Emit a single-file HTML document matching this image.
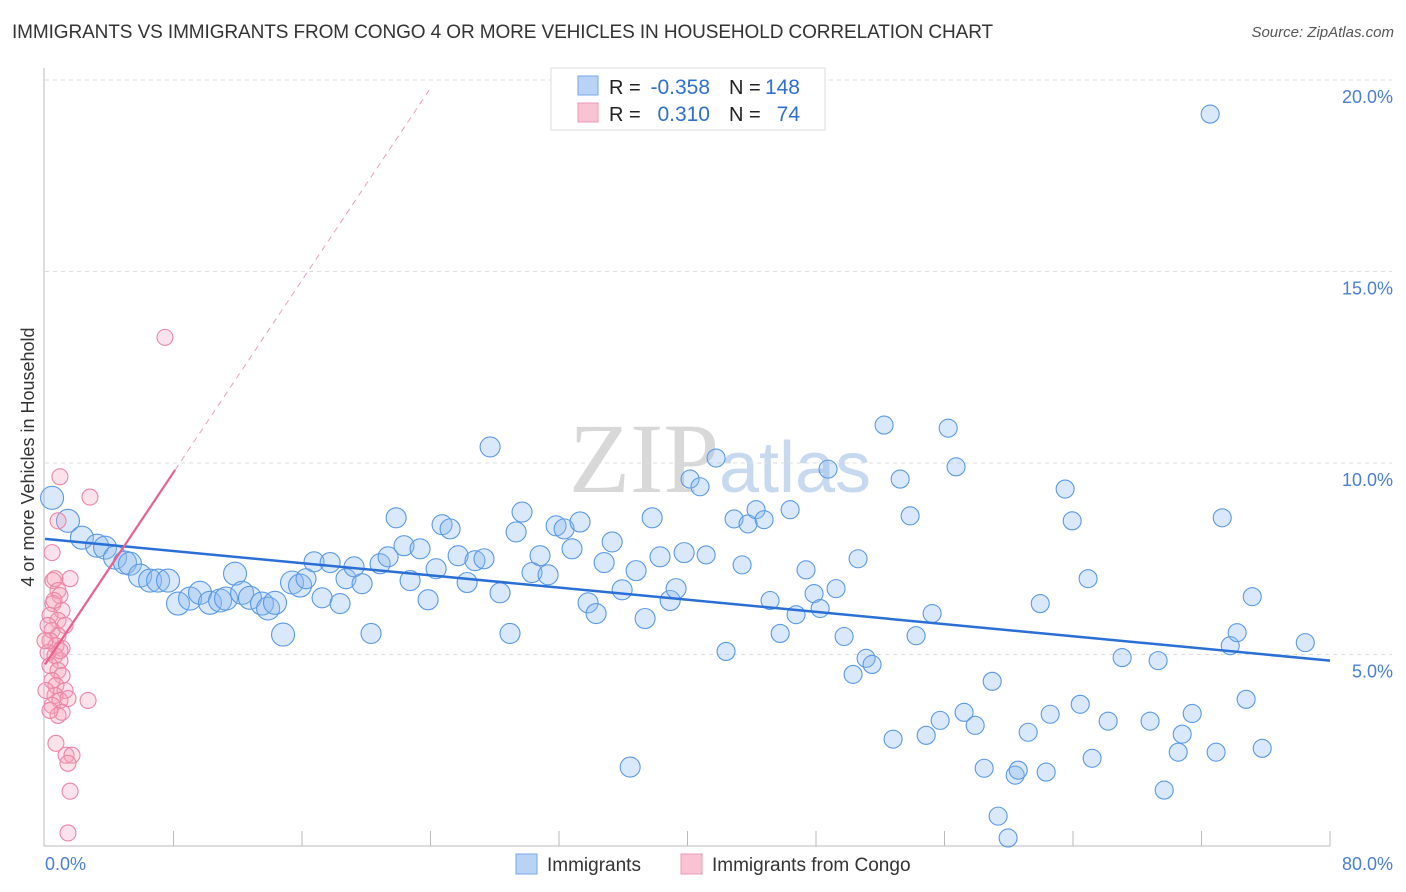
<!DOCTYPE html>
<html><head><meta charset="utf-8">
<style>
body{margin:0;background:#fff;font-family:"Liberation Sans",sans-serif;}
#wrap{position:relative;width:1406px;height:892px;overflow:hidden;}
.title{position:absolute;left:12px;top:22px;font-size:19px;color:#333;letter-spacing:-0.1px;}
.source{position:absolute;right:12px;top:24px;font-size:15px;color:#555;font-style:italic;}
</style></head>
<body>
<div id="wrap">
<div class="title">IMMIGRANTS VS IMMIGRANTS FROM CONGO 4 OR MORE VEHICLES IN HOUSEHOLD CORRELATION CHART</div>
<div class="source">Source: ZipAtlas.com</div>
<svg id="svg" width="1406" height="892" style="position:absolute;left:0;top:0">
<text x="720" y="492" text-anchor="middle" font-family="Liberation Serif" font-size="100" fill="#d8d8d8">ZIP<tspan font-family="Liberation Sans" fill="#c6d9ef" font-size="72">atlas</tspan></text>
</svg>
</div>
<script>
const blueX=[0.44,1.43,2.30,3.24,3.74,4.36,4.98,5.29,5.92,6.54,7.04,7.66,8.28,9.03,9.65,10.27,10.90,11.27,11.83,12.27,12.76,13.51,13.89,14.32,14.82,15.38,15.88,16.25,16.75,17.25,17.75,18.37,18.74,19.24,19.74,20.30,20.86,21.36,21.86,22.35,22.73,23.35,23.85,24.35,24.72,25.22,25.72,26.28,26.77,27.33,27.71,28.33,28.95,29.33,29.70,30.32,30.82,31.32,31.82,32.32,32.81,33.31,33.81,34.31,34.81,35.31,35.93,36.43,36.80,37.36,37.80,38.29,38.92,39.29,39.79,40.16,40.78,41.16,41.78,42.40,42.90,43.40,43.77,44.27,44.77,45.14,45.77,46.39,46.76,47.38,47.88,48.26,48.75,49.25,49.75,50.62,51.12,51.49,50.31,52.24,52.80,53.24,53.86,54.23,54.86,55.23,55.73,56.23,56.72,57.22,57.91,58.47,58.97,59.34,59.96,60.40,60.59,61.21,61.96,62.33,62.58,63.51,63.95,64.45,64.94,65.19,66.19,67.06,68.80,69.30,69.68,70.55,70.80,71.42,72.54,72.91,73.29,73.79,74.22,74.78,75.16,75.78,78.46];
const blueY=[9.09,8.49,8.05,7.84,7.79,7.53,7.40,7.37,7.06,6.93,6.93,6.93,6.33,6.46,6.61,6.35,6.41,6.46,7.11,6.61,6.48,6.33,6.20,6.35,5.52,6.88,6.80,6.98,7.42,6.48,7.40,6.33,6.98,7.29,6.85,5.55,7.37,7.55,8.57,7.84,6.93,7.76,6.43,7.24,8.39,8.28,7.58,6.88,7.45,7.50,10.42,6.61,5.55,8.20,8.72,7.14,7.58,7.08,8.36,8.28,7.76,8.46,6.35,6.07,7.40,7.94,6.69,2.06,7.19,5.94,8.57,7.55,6.41,6.72,7.66,9.58,9.38,7.60,10.13,5.08,8.54,7.34,8.41,8.78,8.52,6.41,5.55,8.78,6.04,7.21,6.59,6.20,9.84,6.72,5.47,7.50,4.90,4.74,4.48,10.99,2.79,9.58,8.62,5.49,2.89,6.07,3.28,10.91,9.90,3.49,3.15,2.03,4.30,0.78,0.21,1.85,1.98,2.97,6.33,1.93,3.44,9.32,8.49,3.70,6.98,2.29,3.26,4.92,3.26,4.84,1.46,2.45,2.92,3.46,19.11,2.45,8.57,5.23,5.57,3.83,6.51,2.55,5.31];
const pinkX=[0.93,0.44,0.81,0.50,0.62,1.56,0.81,0.93,0.50,1.06,0.31,0.81,1.25,0.44,0.81,0.31,0.68,1.06,0.19,0.62,0.93,0.31,0.81,1.06,0.44,0.68,1.25,0.62,0.93,1.43,0.44,1.06,0.81,2.68,2.80,7.47,0.68,1.31,1.68,1.43,1.56,1.43,0,0.19,0.56,0.06,0.31,0.93];
const pinkY=[9.64,7.66,8.49,6.93,6.98,6.98,6.67,6.54,6.33,6.15,6.02,5.89,5.76,5.63,5.49,5.36,5.23,5.16,5.05,4.97,4.84,4.71,4.58,4.45,4.32,4.19,4.06,3.93,3.80,3.85,3.67,3.49,3.41,3.80,9.11,13.28,2.68,2.37,2.37,2.16,1.43,0.34,5.36,5.76,6.41,4.06,3.54,5.10];
const yTicks=[5,10,15,20];
const yTickLabels=["5.0%","10.0%","15.0%","20.0%"];
const xTicks=[0,8,16,24,32,40,48,56,64,72,80];
const blueTrend=[8.02,4.84];
const pinkTrend=[4.74,0.627];

const NS="http://www.w3.org/2000/svg";
const svg=document.getElementById('svg');
const X0=45,X1=1330,Y0=846,Y20=80;
const sx=v=>X0+(X1-X0)*v/80;
const sy=v=>Y0-(Y0-Y20)*v/20;
function mk(tag,attrs,parent){const e=document.createElementNS(NS,tag);for(const k in attrs)e.setAttribute(k,attrs[k]);(parent||svg).appendChild(e);return e;}

yTicks.forEach((t,i)=>{
  const g=mk('line',{x1:X0,x2:1392,y1:sy(t),y2:sy(t),stroke:'#ddd','stroke-dasharray':'4,4'});
  
  
  const l=mk('text',{x:1393,y:sy(t)+23,'text-anchor':'end','font-size':18,fill:'#4a7fd4'});
  l.textContent=yTickLabels[i];
  
  
});
const ax=mk('line',{x1:X0-1,x2:X0-1,y1:68,y2:Y0,stroke:'#bbb'});


const bx=mk('line',{x1:X0-1,x2:X1,y1:Y0,y2:Y0,stroke:'#bbb'});


xTicks.forEach(t=>{
  if(t===0)return;
  const tk=mk('line',{x1:sx(t),x2:sx(t),y1:Y0-15,y2:Y0,stroke:'#bbb'});
  
  
});
const xl0=mk('text',{x:45,y:870,'font-size':18,fill:'#4a7fd4'});xl0.textContent='0.0%';


const xl1=mk('text',{x:1393,y:870,'text-anchor':'end','font-size':18,fill:'#4a7fd4'});xl1.textContent='80.0%';


const yt=mk('text',{x:34,y:457,'text-anchor':'middle','font-size':18,fill:'#333',transform:'rotate(-90 34 457)'});
yt.textContent='4 or more Vehicles in Household';



blueX.forEach((x,i)=>{
  const r=x<16?11.5:(x<40?10:9);
  const c=mk('circle',{cx:sx(x),cy:sy(blueY[i]),r:r,fill:'rgba(140,185,240,0.33)',stroke:'#5a9ae6','stroke-width':1.1});
  
  
});
pinkX.forEach((x,i)=>{
  const c=mk('circle',{cx:sx(x),cy:sy(pinkY[i]),r:8,fill:'rgba(245,160,185,0.3)',stroke:'#ec86a6','stroke-width':1.1});
  
  
});
const bt=mk('line',{x1:sx(0),y1:sy(blueTrend[0]),x2:sx(80),y2:sy(blueTrend[1]),stroke:'#2a6fd6','stroke-width':2.5});


const pf=x=>pinkTrend[0]+pinkTrend[1]*x;
const pt=mk('line',{x1:sx(0),y1:sy(pf(0)),x2:sx(8.1),y2:sy(pf(8.1)),stroke:'#e8608e','stroke-width':2.2});


const pd=mk('line',{x1:sx(8.1),y1:sy(pf(8.1)),x2:sx(24.1),y2:sy(pf(24.1)),stroke:'#e8a0b8','stroke-width':1,'stroke-dasharray':'6,5'});



const lg=mk('g',{});


mk('rect',{x:551,y:68,width:274,height:62,fill:'#fff',stroke:'#ddd'},lg);
mk('rect',{x:578,y:76,width:20,height:19,fill:'#b8d3f5',stroke:'#7aaae8'},lg);
mk('rect',{x:578,y:103,width:20,height:19,fill:'#f8c4d4',stroke:'#ee9ab4'},lg);
[['R = ','-0.358','N = ','148',94],['R = ','0.310','N = ','74',121]].forEach(r=>{
  const a=mk('text',{x:609,y:r[4],'font-size':20,fill:'#222'},lg);a.textContent=r[0];
  const b=mk('text',{x:710,y:r[4],'font-size':21,fill:'#2f6fd0','text-anchor':'end'},lg);b.textContent=r[1];
  const c=mk('text',{x:729,y:r[4],'font-size':20,fill:'#222'},lg);c.textContent=r[2];
  const d=mk('text',{x:800,y:r[4],'font-size':21,fill:'#2f6fd0','text-anchor':'end'},lg);d.textContent=r[3];
});
const bl=mk('g',{});


mk('rect',{x:516,y:854,width:21,height:20,fill:'#b8d3f5',stroke:'#7aaae8'},bl);
const t1=mk('text',{x:547,y:871,'font-size':19,fill:'#333'},bl);t1.textContent='Immigrants';
mk('rect',{x:681,y:854,width:21,height:20,fill:'#f8c4d4',stroke:'#ee9ab4'},bl);
const t2=mk('text',{x:712,y:871,'font-size':19,fill:'#333'},bl);t2.textContent='Immigrants from Congo';
</script>
</body></html>
